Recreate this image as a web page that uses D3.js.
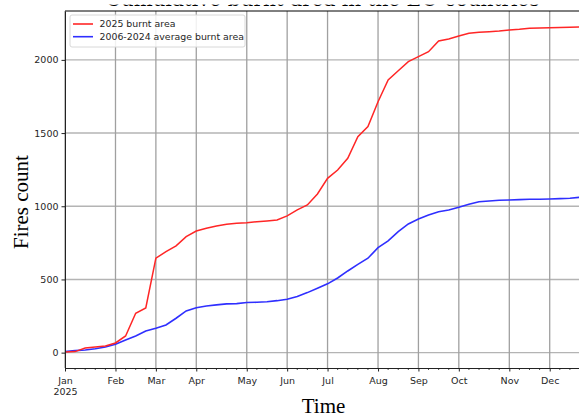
<!DOCTYPE html>
<html>
<head>
<meta charset="utf-8">
<script src="https://cdn.jsdelivr.net/npm/d3@7"></script>
<style>
  html, body { margin: 0; padding: 0; background: #fff; }
  svg { display: block; }
</style>
</head>
<body>
<svg id="chart" width="579" height="417"></svg>
<script>
// Weekly cumulative burnt area, week 0 = first week of January 2025
const burnt2025 = [5, 7, 32, 38, 45, 66, 114, 269, 305, 645, 690, 729, 792, 831, 850, 865,
  877, 884, 888, 895, 900, 906, 934, 975, 1009, 1084, 1191, 1248, 1328, 1475, 1544, 1714,
  1863, 1926, 1988, 2022, 2056, 2129, 2143, 2163, 2182, 2189, 2193, 2197, 2204, 2209,
  2216, 2218, 2220, 2222, 2223, 2224];
const burntAvg = [7, 14, 18, 27, 39, 57, 87, 114, 148, 167, 189, 235, 285, 307, 319, 326,
  333, 335, 342, 344, 348, 355, 365, 384, 410, 440, 470, 510, 558, 603, 645, 717,
  763, 827, 879, 913, 940, 963, 975, 993, 1014, 1031, 1036, 1041, 1043, 1045,
  1048, 1048, 1050, 1052, 1055, 1061];
const seriesNames = ["2025 burnt area", "2006-2024 average burnt area"];
const monthLabels = ["Jan", "Feb", "Mar", "Apr", "May", "Jun", "Jul", "Aug", "Sep", "Oct", "Nov", "Dec"];
const monthWeeks = [0, 5, 9, 13, 18, 22, 26, 31, 35, 39, 44, 48];
const yearLabel = "2025";
const yTicks = [0, 500, 1000, 1500, 2000];
const titleText = "Cumulative burnt area in the EU countries";

(function draw() {
  const svg = d3.select("#chart");
  const mLeft = 65, mRight = 580, mTop = 11, mBottom = 368;
  const weeks = d3.range(burnt2025.length);

  const x = d3.scaleLinear().domain([0, weeks.length - 1]).range([mLeft, mRight]);
  const y = d3.scaleLinear().domain([-105, 2334]).range([mBottom, mTop]);

  // Title: the figure is cropped so that only the foot of the title shows
  svg.append("text")
    .attr("x", (mLeft + mRight) / 2).attr("y", 6.4)
    .attr("text-anchor", "middle")
    .style("font-family", "'DejaVu Serif', serif").style("font-size", "20px")
    .attr("fill", "#000").text(titleText);
  svg.append("rect").attr("x", 0).attr("y", -20).attr("width", 579).attr("height", 24.6)
    .attr("fill", "#fff");

  const plot = svg.append("g");

  // Grid
  plot.append("g").selectAll("line").data(yTicks).join("line")
    .attr("x1", mLeft).attr("x2", mRight)
    .attr("y1", d => y(d)).attr("y2", d => y(d))
    .attr("stroke", "#b4b4b4").attr("stroke-width", 1.4);
  plot.append("g").selectAll("line").data(monthWeeks).join("line")
    .attr("x1", d => x(d)).attr("x2", d => x(d))
    .attr("y1", mTop).attr("y2", mBottom)
    .attr("stroke", "#a0a0a0").attr("stroke-width", 1.3);

  // Lines
  const line = d3.line().x((d, i) => x(i)).y(d => y(d));
  plot.append("path").datum(burntAvg).attr("d", line)
    .attr("fill", "none").attr("stroke", "#2f2fff").attr("stroke-width", 1.6);
  plot.append("path").datum(burnt2025).attr("d", line)
    .attr("fill", "none").attr("stroke", "#ff2626").attr("stroke-width", 1.5);

  // Top spine
  svg.append("line").attr("x1", mLeft).attr("x2", mRight).attr("y1", mTop).attr("y2", mTop)
    .attr("stroke", "#000").attr("stroke-width", 1);

  // Axes
  const tickFont = "'DejaVu Sans', sans-serif";
  const xAxis = svg.append("g").attr("transform", `translate(0,${mBottom})`)
    .call(d3.axisBottom(x).tickValues(monthWeeks).tickSize(3.5).tickSizeOuter(0)
      .tickFormat((d, i) => monthLabels[i]));
  xAxis.select(".domain").attr("stroke", "#222");
  xAxis.selectAll(".tick line").attr("stroke", "#222");
  xAxis.selectAll(".tick text").attr("fill", "#262626").attr("dy", null).attr("y", 15.5)
    .style("font-family", tickFont).style("font-size", "9.5px");
  xAxis.selectAll(".tick").filter(d => d === 0).select("text")
    .append("tspan").attr("x", 0).attr("dy", 11).text(yearLabel);
  // weekly minor ticks
  xAxis.append("g").selectAll("line").data(weeks.filter(w => !monthWeeks.includes(w))).join("line")
    .attr("x1", d => x(d)).attr("x2", d => x(d)).attr("y1", 0).attr("y2", 2)
    .attr("stroke", "#222").attr("stroke-width", 0.8);

  const yAxis = svg.append("g").attr("transform", `translate(${mLeft},0)`)
    .call(d3.axisLeft(y).tickValues(yTicks).tickSize(3.5).tickSizeOuter(0)
      .tickFormat(d3.format("d")));
  yAxis.select(".domain").attr("stroke", "#222");
  yAxis.selectAll(".tick line").attr("stroke", "#222");
  yAxis.selectAll(".tick text").attr("fill", "#262626").attr("x", -6.5)
    .style("font-family", tickFont).style("font-size", "9.5px");

  // Axis titles
  svg.append("text").attr("x", (mLeft + mRight) / 2 + 1).attr("y", 413)
    .attr("text-anchor", "middle")
    .style("font-family", "'Liberation Serif', serif").style("font-size", "21px")
    .attr("fill", "#000").text("Time");
  svg.append("text").attr("transform", "translate(27.5,202) rotate(-90)")
    .attr("text-anchor", "middle")
    .style("font-family", "'Liberation Serif', serif").style("font-size", "21px")
    .attr("fill", "#000").text("Fires count");

  // Legend
  const legend = svg.append("g");
  legend.append("rect").attr("x", 70).attr("y", 15).attr("width", 175).attr("height", 32)
    .attr("rx", 2).attr("fill", "#fff").attr("fill-opacity", 0.85)
    .attr("stroke", "#d8d8d8").attr("stroke-width", 1);
  const colors = ["#ff2626", "#2f2fff"];
  seriesNames.forEach((name, i) => {
    const yy = 24 + i * 12.7;
    legend.append("line").attr("x1", 73).attr("x2", 93).attr("y1", yy).attr("y2", yy)
      .attr("stroke", colors[i]).attr("stroke-width", 1.6);
    legend.append("text").attr("x", 99.5).attr("y", yy + 3.4)
      .style("font-family", tickFont).style("font-size", "9.4px")
      .attr("fill", "#262626").text(name);
  });
})();
</script>
</body>
</html>
